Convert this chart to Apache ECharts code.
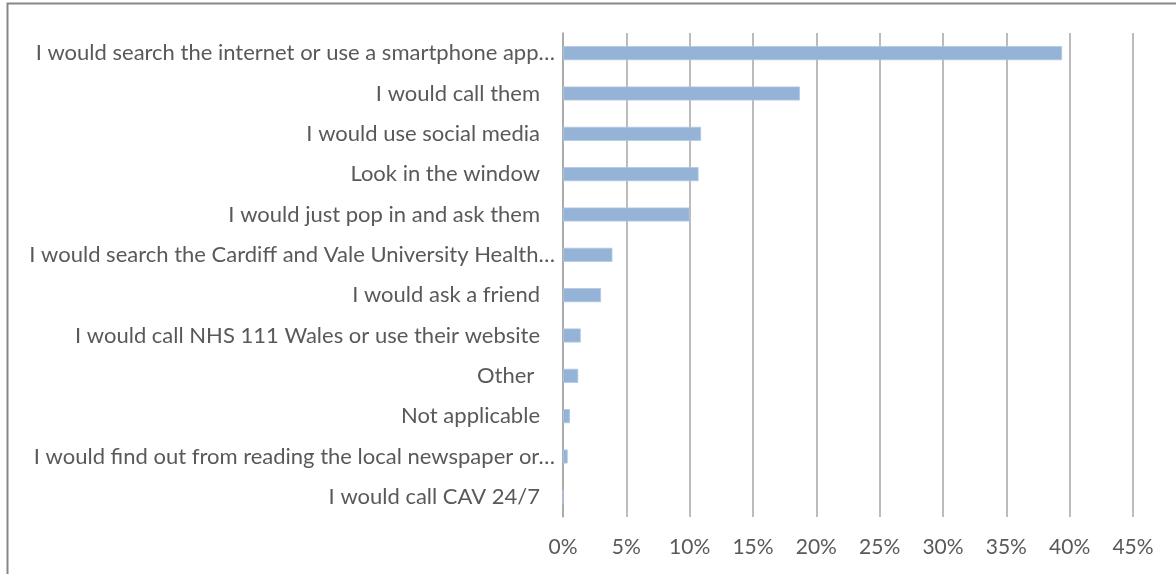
<!DOCTYPE html>
<html>
<head>
<meta charset="utf-8">
<script src="https://cdn.jsdelivr.net/npm/echarts@6/dist/echarts.min.js"></script>
<style>
  html, body { margin: 0; padding: 0; background: #fff; }
  #chart { width: 1176px; height: 574px; }
</style>
</head>
<body>
<div id="chart"></div>
<script>
// Categories listed top to bottom
const categories = [
  "I would search the internet or use a smartphone app…",
  "I would call them",
  "I would use social media",
  "Look in the window",
  "I would just pop in and ask them",
  "I would search the Cardiff and Vale University Health…",
  "I would ask a friend",
  "I would call NHS 111 Wales or use their website",
  "Other ",
  "Not applicable",
  "I would find out from reading the local newspaper or…",
  "I would call CAV 24/7"
];
// Percent values, same order as categories
const values = [39.4, 18.7, 10.9, 10.7, 10.0, 3.9, 3.0, 1.4, 1.2, 0.55, 0.37, 0];
const xTicks = { min: 0, max: 45, interval: 5 };

const chart = echarts.init(document.getElementById('chart'), null, { renderer: 'canvas' });
const font = 'Lato, "Open Sans", sans-serif';
const labelStyle = { color: '#595959', fontSize: 22, fontFamily: font };
chart.setOption({
  animation: false,
  backgroundColor: '#ffffff',
  graphic: [{
    type: 'rect',
    shape: { x: 7.5, y: 3.5, width: 1300, height: 700 },
    style: { fill: 'none', stroke: '#878787', lineWidth: 2 },
    silent: true
  }],
  grid: { left: 563, right: 43, top: 33, bottom: 57, containLabel: false },
  xAxis: {
    type: 'value',
    min: xTicks.min, max: xTicks.max, interval: xTicks.interval,
    axisLine: { show: false },
    axisTick: { show: false },
    splitLine: { show: true, lineStyle: { color: '#a6a6a6', width: 1.5 } },
    axisLabel: {
      formatter: '{value}%', color: '#595959', fontSize: 21, fontFamily: font, margin: 20
    }
  },
  yAxis: {
    type: 'category',
    data: categories,
    inverse: true,
    axisLine: { show: true, lineStyle: { color: '#a6a6a6', width: 1.5 } },
    axisTick: { show: false },
    axisLabel: {
      margin: 8,
      formatter: function (v) {
        return v.endsWith('…') ? '{t|' + v + '}' : '{n|' + v + '}';
      },
      rich: {
        t: Object.assign({}, labelStyle),
        n: Object.assign({ padding: [0, 15, 0, 0] }, labelStyle)
      }
    }
  },
  series: [{
    type: 'bar',
    data: values,
    barWidth: 14,
    itemStyle: { color: '#95b3d7', borderColor: '#b0c6e2', borderWidth: 0.8 }
  }]
});
</script>
</body>
</html>
